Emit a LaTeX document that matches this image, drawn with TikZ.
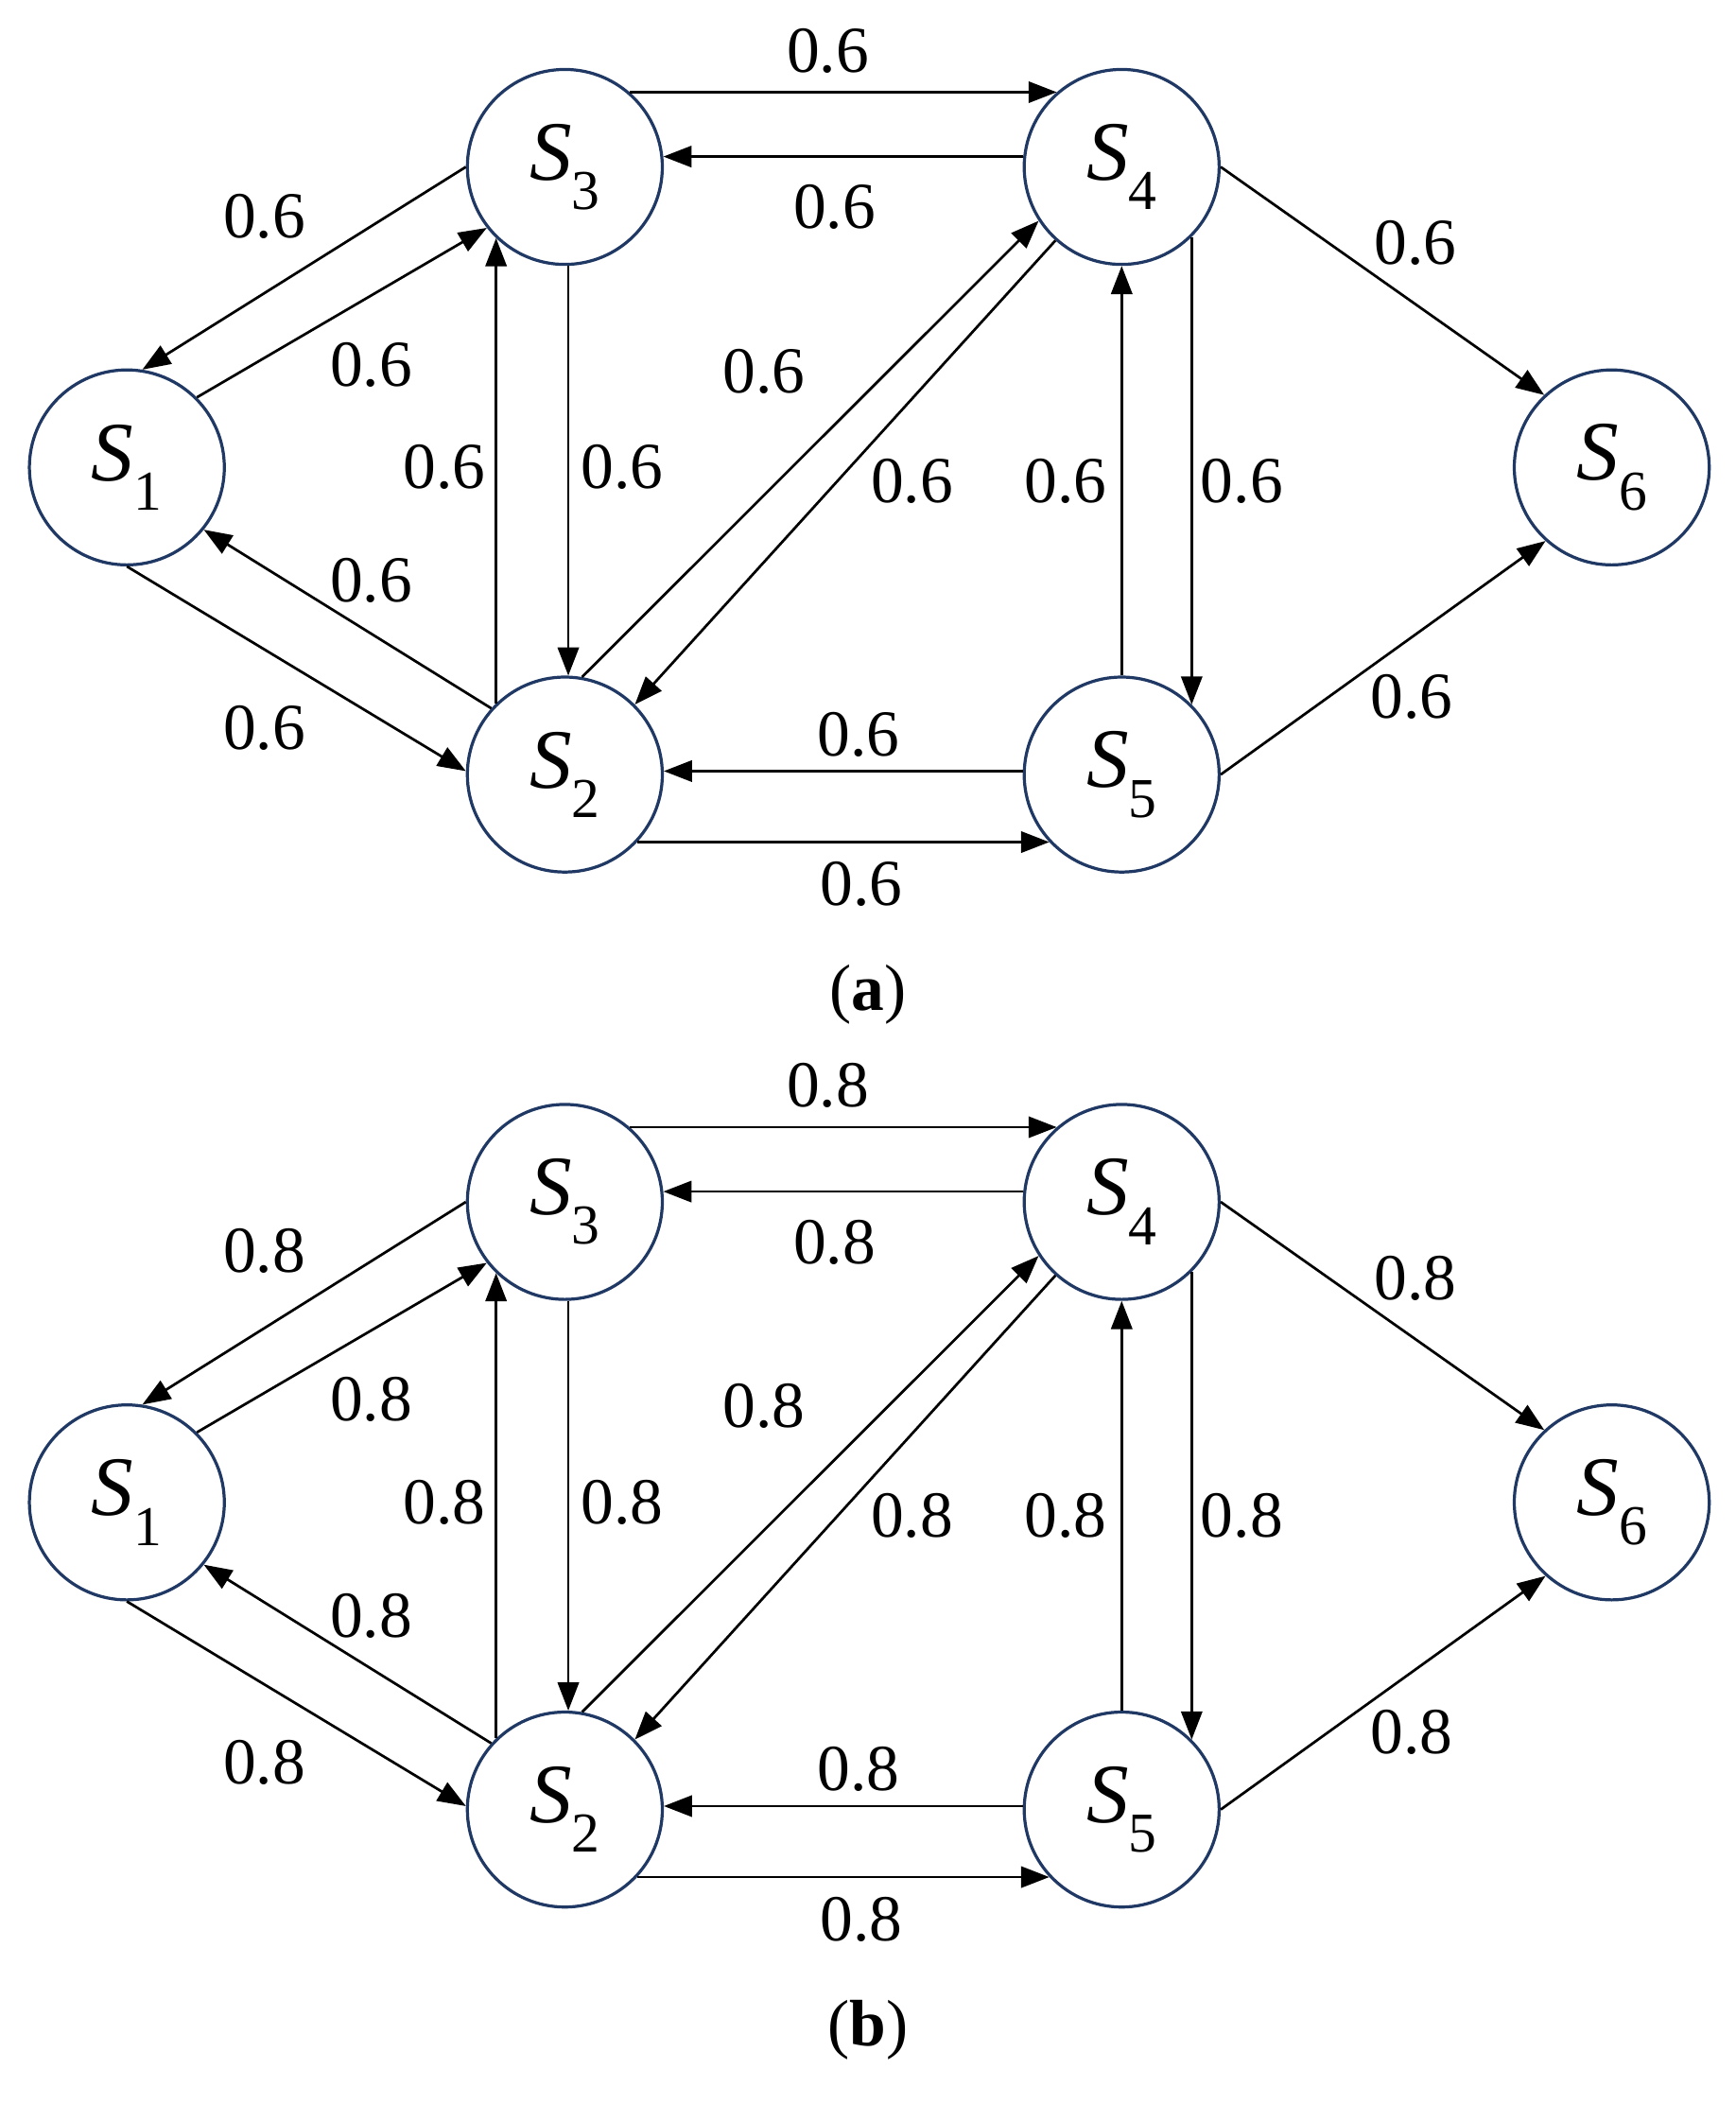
\documentclass[tikz,border=0pt]{standalone}
\usepackage{fontspec}
\setmainfont{Liberation Serif}
\usetikzlibrary{arrows.meta}
\definecolor{navy}{HTML}{1F3864}
\tikzset{
  st/.style={circle,draw=navy,line width=1.3pt,minimum size=146*0.02cm,inner sep=0pt,font=\fontsize{36}{36}\selectfont},
  ed/.style={-{Triangle[length=12pt,width=9pt]},line width=1.1pt},
  lb/.style={font=\fontsize{28}{28}\selectfont}
}
\newcommand\mylab[1]{\textit{S}\raisebox{-0.35em}{\fontsize{24}{24}\selectfont #1}}
\newcommand\mypanel[4]{%
\begin{scope}[yshift=-#3*0.02cm]
\node[st] (#1S1) at (95,350) {\mylab{1}};
\node[st] (#1S3) at (423,125) {\mylab{3}};
\node[st] (#1S4) at (840,125) {\mylab{4}};
\node[st] (#1S2) at (423,580) {\mylab{2}};
\node[st] (#1S5) at (840,580) {\mylab{5}};
\node[st] (#1S6) at (1207,350) {\mylab{6}};
\draw[ed] (#1S3.49) -- (#1S4.131);
\draw[ed] (#1S4.174) -- (#1S3.6);
\draw[ed] (#1S3.180) -- (#1S1.81);
\draw[ed] (#1S1.45) -- (#1S3.218);
\draw[ed] (#1S3.-88) -- (#1S2.88);
\draw[ed] (#1S2.134) -- (#1S3.226);
\draw[ed] (#1S2.138) -- (#1S1.-39);
\draw[ed] (#1S1.270) -- (#1S2.178);
\draw[ed] (#1S2.80) -- (#1S4.213);
\draw[ed] (#1S4.228) -- (#1S2.45);
\draw[ed] (#1S5.90) -- (#1S4.270);
\draw[ed] (#1S4.-45) -- (#1S5.45);
\draw[ed] (#1S5.178) -- (#1S2.2);
\draw[ed] (#1S2.-43) -- (#1S5.223);
\draw[ed] (#1S4.0) -- (#1S6.133);
\draw[ed] (#1S5.0) -- (#1S6.228);
\foreach \x/\y in {620/38,625/155,198/162,278/273,466/350,333/350,278/435,198/545,572/278,683/360,798/360,930/360,643/550,645/662,1060/182,1057/522}
  \node[lb] at (\x,\y) {#2};
\node[lb] (#1cap) at (650,745) {(\textbf{#4})};
\end{scope}}
\begin{document}
\begin{tikzpicture}[x=0.02cm,y=-0.02cm]
\useasboundingbox (0,0) rectangle (1300,1575.5);
\mypanel{a}{0.6}{0}{a}
\mypanel{b}{0.8}{775}{b}
\end{tikzpicture}
\end{document}
